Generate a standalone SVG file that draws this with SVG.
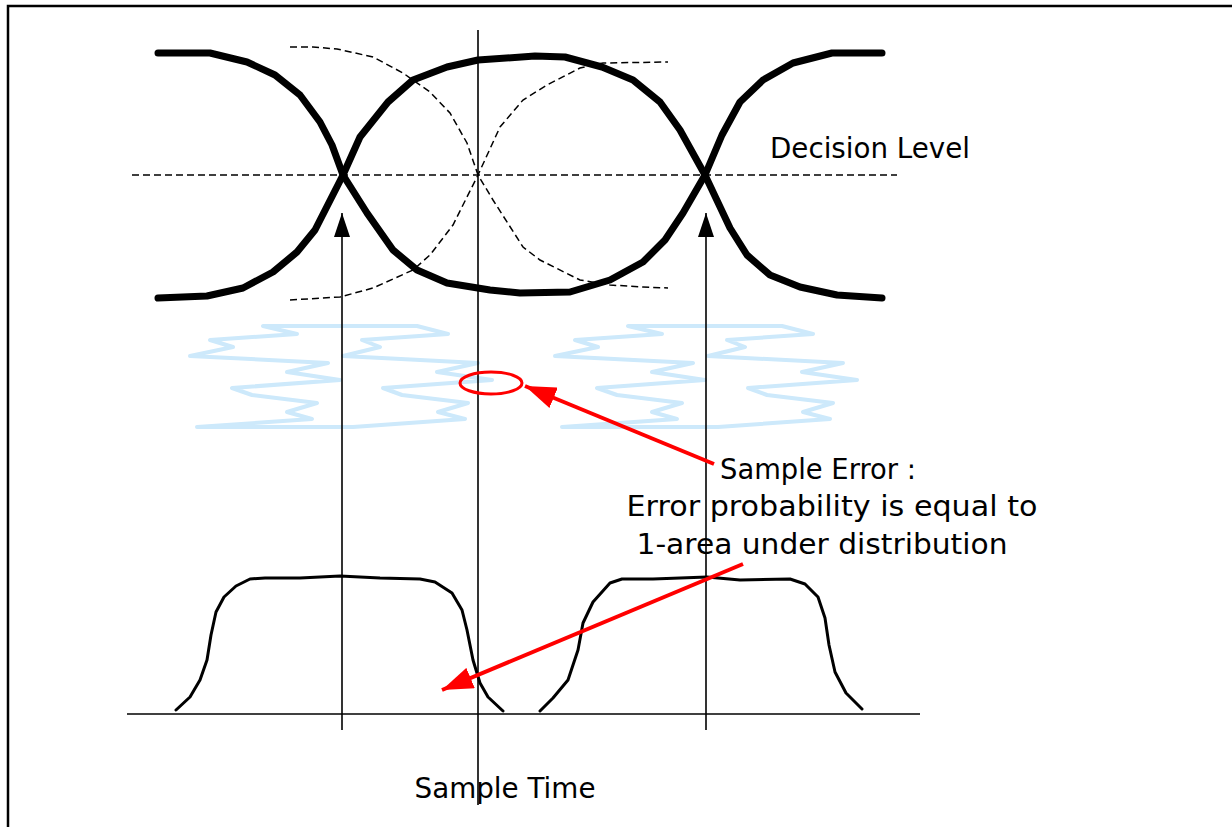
<svg xmlns="http://www.w3.org/2000/svg" xmlns:xlink="http://www.w3.org/1999/xlink" width="1232" height="827" viewBox="0 0 1232 827">
<style>
.thick{fill:none;stroke:#000;stroke-width:7;stroke-linecap:round;stroke-linejoin:round}
.dash{fill:none;stroke:#000;stroke-width:1.5;stroke-dasharray:7 4}
.thin{fill:none;stroke:#000;stroke-width:1.6}
.dist{fill:none;stroke:#000;stroke-width:3;stroke-linejoin:round;stroke-linecap:round}
.jit{fill:none;stroke:#cde9fb;stroke-width:4;stroke-linejoin:round}
.red{fill:none;stroke:#ff0000;stroke-width:4}
.lbl{font-family:"Comic Sans MS","DejaVu Sans",sans-serif;font-size:28px;fill:#000;text-anchor:middle}
</style>
<defs>
<marker id="ah" viewBox="0 0 24 16" refX="24" refY="8" markerWidth="24" markerHeight="16" markerUnits="userSpaceOnUse" orient="auto"><path d="M0,0 L24,8 L0,16 z" fill="#000"/></marker>
<marker id="rh" viewBox="0 0 31 22" refX="31" refY="11" markerWidth="31" markerHeight="22" markerUnits="userSpaceOnUse" orient="auto"><path d="M0,0 L31,11 L0,22 z" fill="#ff0000"/></marker>
<polygon id="jitter" points="263,326 417,326 448,334 362,340 380,347 343,356 478,363 437,372 492,380 383,388 402,395 468,403 438,412 465,419 353,427 197,427 312,419 287,412 317,403 252,395 232,388 340,380 287,372 328,363 190,356 233,347 210,340 297,334"/>
</defs>
<g id="frame"><path d="M8,827 L8,6 L1232,6" fill="none" stroke="#000" stroke-width="2.5"/></g>
<g id="jitter-clouds">
<use xlink:href="#jitter" class="jit"/>
<use xlink:href="#jitter" class="jit" transform="translate(365,0)"/>
</g>
<g id="eye">
<polyline class="dash" points="290,47 313,47 337,49 373,57 403,73 430,92 450,113 467,143 478,175 493,200 523,247 540,260 580,280 610,285 643,287 668,288"/>
<polyline class="dash" points="290,300 340,297 373,288 413,270 430,255 453,225 478,175 500,127 523,100 547,85 580,68 603,63 668,62"/>
<line class="dash" x1="132" y1="175" x2="897" y2="175"/>
<polyline class="thick" points="158,53 210,53 247,62 275,75 300,95 320,122 332,145 343,175 367,213 393,250 417,270 447,283 490,290 520,293 570,292 610,280 643,262 665,240 683,213 705,175 722,135 740,102 763,80 793,63 832,53 882,53"/>
<polyline class="thick" points="158,298 207,296 243,288 273,272 297,252 315,230 343,175 360,137 388,102 413,80 447,67 478,60 535,56 565,57 602,67 633,80 660,102 680,130 705,175 730,228 747,255 770,275 800,287 837,295 882,298"/>
</g>
<g id="distributions">
<line class="thin" x1="127" y1="714" x2="920" y2="714"/>
<polyline class="dist" points="176,710 190,697 200,680 207,660 211,635 216,612 224,597 236,586 250,579 265,578 300,578 340,576 380,578 420,579 435,582 452,593 462,610 467,630 473,660 480,683 488,697 503,711"/>
<polyline class="dist" points="540,711 553,698 568,680 578,650 583,623 593,602 610,583 622,579 653,579 707,577 740,580 790,579 805,584 818,597 825,618 829,645 835,672 846,693 862,709"/>
</g>
<g id="connectors">
<line class="thin" x1="478" y1="30" x2="478" y2="805"/>
<line class="thin" x1="342" y1="730" x2="342" y2="213" marker-end="url(#ah)"/>
<line class="thin" x1="706" y1="730" x2="706" y2="213" marker-end="url(#ah)"/>
<line class="red" x1="714" y1="464" x2="525" y2="386" marker-end="url(#rh)"/>
<line class="red" x1="743" y1="564" x2="442" y2="690" marker-end="url(#rh)"/>
</g>
<g id="sample-error-mark"><ellipse cx="491" cy="383" rx="31" ry="11" fill="none" stroke="#ff0000" stroke-width="3"/></g>
<g id="labels">
<text class="lbl" x="870" y="158" textLength="200" lengthAdjust="spacingAndGlyphs">Decision Level</text>
<text class="lbl" x="818" y="479" textLength="196" lengthAdjust="spacingAndGlyphs">Sample Error :</text>
<text class="lbl" x="832" y="516" textLength="411" lengthAdjust="spacingAndGlyphs">Error probability is equal to</text>
<text class="lbl" x="822" y="554" textLength="371" lengthAdjust="spacingAndGlyphs">1-area under distribution</text>
<text class="lbl" x="505" y="798" textLength="181" lengthAdjust="spacingAndGlyphs">Sample Time</text>
</g>
</svg>
